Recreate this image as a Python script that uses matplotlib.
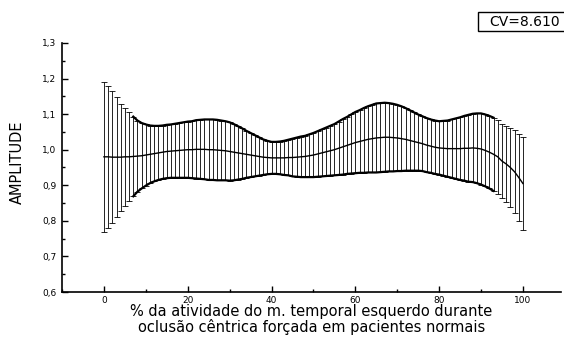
from matplotlib import pyplot as plt
from matplotlib.ticker import MultipleLocator
from matplotlib.patches import Rectangle
import numpy as np

# % of activity (0..100) and amplitude mean / standard deviation
pct = np.arange(0, 101)
mean = [0.980, 0.980, 0.979, 0.979, 0.979, 0.980, 0.980, 0.981, 0.982, 0.983, 0.985,
        0.987, 0.989, 0.991, 0.993, 0.995, 0.996, 0.997, 0.998, 0.999, 1.000,
        1.000, 1.001, 1.001, 1.001, 1.000, 1.000, 0.999, 0.998, 0.997, 0.995,
        0.993, 0.991, 0.989, 0.987, 0.985, 0.983, 0.981, 0.979, 0.978, 0.977,
        0.977, 0.977, 0.977, 0.978, 0.978, 0.979, 0.980, 0.981, 0.983, 0.985,
        0.988, 0.991, 0.994, 0.997, 1.000, 1.004, 1.008, 1.012, 1.016, 1.020,
        1.023, 1.026, 1.029, 1.031, 1.033, 1.034, 1.035, 1.035, 1.034, 1.033,
        1.031, 1.029, 1.026, 1.023, 1.020, 1.017, 1.013, 1.010, 1.007, 1.005,
        1.004, 1.003, 1.003, 1.003, 1.003, 1.004, 1.004, 1.005, 1.004, 1.002,
        0.998, 0.993, 0.987, 0.980, 0.968, 0.960, 0.950, 0.938, 0.922, 0.905]
sd = [0.210, 0.200, 0.185, 0.168, 0.150, 0.137, 0.125, 0.112, 0.100, 0.092, 0.086,
      0.081, 0.078, 0.076, 0.075, 0.075, 0.075, 0.076, 0.077, 0.078, 0.079,
      0.080, 0.082, 0.083, 0.084, 0.085, 0.085, 0.085, 0.084, 0.083, 0.082,
      0.079, 0.075, 0.071, 0.066, 0.062, 0.058, 0.054, 0.050, 0.047, 0.045,
      0.045, 0.046, 0.048, 0.050, 0.053, 0.055, 0.057, 0.058, 0.060, 0.062,
      0.064, 0.066, 0.068, 0.070, 0.072, 0.075, 0.078, 0.080, 0.083, 0.086,
      0.088, 0.091, 0.093, 0.095, 0.097, 0.097, 0.097, 0.096, 0.095, 0.093,
      0.091, 0.088, 0.085, 0.082, 0.079, 0.077, 0.076, 0.075, 0.075, 0.075,
      0.077, 0.079, 0.082, 0.085, 0.088, 0.091, 0.094, 0.096, 0.098, 0.100,
      0.101, 0.102, 0.103, 0.104, 0.105, 0.108, 0.112, 0.117, 0.123, 0.130]
cv_text = "CV=8.610"
yticks = [0.6, 0.7, 0.8, 0.9, 1.0, 1.1, 1.2, 1.3]
ylabels = ["0,6", "0,7", "0,8", "0,9", "1,0", "1,1", "1,2", "1,3"]
xticks = [0, 20, 40, 60, 80, 100]

plt.rcParams['font.family'] = ['DejaVu Sans']

mean = np.array(mean)
sd = np.array(sd)

fig = plt.figure(figsize=(5.64, 3.37), dpi=100)
ax = fig.add_axes([0.110, 0.1335, 0.884, 0.739])

ax.errorbar(pct, mean, yerr=sd, fmt='none', ecolor='black',
            elinewidth=0.6, capsize=2.5, capthick=0.6)
ax.plot(pct, mean, color='black', lw=1.0)
# heavy outline where the caps merge into a band
band = slice(7, 94)
ax.plot(pct[band], (mean + sd)[band], color='black', lw=1.6)
ax.plot(pct[band], (mean - sd)[band], color='black', lw=1.6)

ax.set_xlim(-10, 109)
ax.set_ylim(0.6, 1.3)
ax.set_xticks(xticks)
ax.set_yticks(yticks)
ax.set_yticklabels(ylabels)
ax.xaxis.set_minor_locator(MultipleLocator(10))
ax.yaxis.set_minor_locator(MultipleLocator(0.05))
ax.tick_params(which='both', direction='in', labelsize=6.5, width=1)
ax.tick_params(which='major', length=4)
ax.tick_params(which='minor', length=2)
ax.tick_params(axis='y', pad=4)
ax.tick_params(axis='x', pad=3)
ax.spines['top'].set_visible(False)
ax.spines['right'].set_visible(False)
ax.spines['left'].set_linewidth(1.2)
ax.spines['bottom'].set_linewidth(1.2)

ax.set_ylabel('AMPLITUDE', fontsize=10.5)
ax.yaxis.set_label_coords(-0.075, 0.52)
ax.set_xlabel('% da atividade do m. temporal esquerdo durante\n'
              'oclusão cêntrica forçada em pacientes normais',
              fontsize=10.5, linespacing=1.0, va='top')
ax.xaxis.set_label_coords(0.5, -0.05)

fig.patches.append(Rectangle((478 / 564, 1 - 31 / 337), 0.17, 19 / 337,
                             transform=fig.transFigure, fc='white',
                             ec='black', lw=1))
fig.text(525 / 564, 1 - 22 / 337, cv_text, fontsize=10, ha='center', va='center')

plt.savefig('out.png', dpi=100)
